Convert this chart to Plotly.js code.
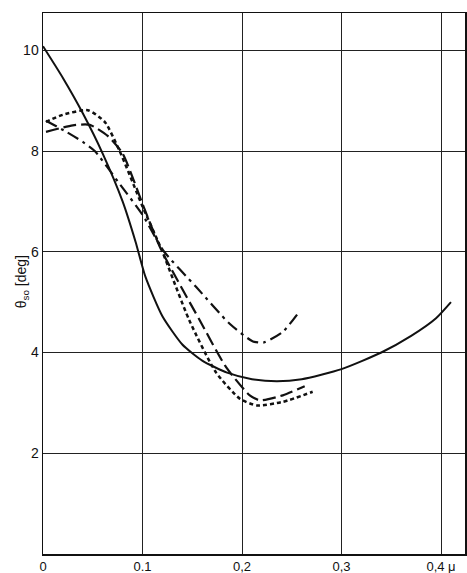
<!DOCTYPE html>
<html>
<head>
<meta charset="utf-8">
<script src="https://cdn.plot.ly/plotly-3.0.1.min.js"></script>
<style>html,body{margin:0;padding:0;background:#fff;}#chart{width:467px;height:573px;}</style>
</head>
<body>
<div id="chart"></div>
<script>
// Solid curve
var solidX = [0, 0.02, 0.04, 0.06, 0.08, 0.093, 0.103, 0.12, 0.14, 0.16, 0.185, 0.21, 0.235, 0.26, 0.30, 0.34, 0.37, 0.395, 0.41];
var solidY = [10.08, 9.45, 8.75, 7.95, 7.0, 6.2, 5.5, 4.72, 4.16, 3.84, 3.6, 3.47, 3.43, 3.47, 3.67, 4.0, 4.33, 4.68, 5.0];
// Dotted curve
var dotX = [0.003, 0.02, 0.045, 0.062, 0.077, 0.1, 0.119, 0.147, 0.174, 0.198, 0.215, 0.241, 0.271];
var dotY = [8.58, 8.72, 8.81, 8.58, 8.0, 6.9, 6.05, 4.64, 3.6, 3.08, 2.95, 3.02, 3.22];
// Long-dash curve
var dashX = [0.003, 0.03, 0.047, 0.065, 0.08, 0.102, 0.119, 0.1575, 0.184, 0.2078, 0.218, 0.241, 0.263];
var dashY = [8.38, 8.51, 8.52, 8.3, 7.95, 6.85, 6.03, 4.64, 3.71, 3.15, 3.05, 3.15, 3.33];
// Dash-dot curve
var ddX = [0.003, 0.0235, 0.04, 0.052, 0.075, 0.1005, 0.1206, 0.154, 0.1876, 0.211, 0.222, 0.241, 0.256];
var ddY = [8.6, 8.38, 8.18, 8.0, 7.4, 6.72, 6.03, 5.3, 4.57, 4.22, 4.2, 4.41, 4.77];

var xTickVals = [0, 0.1, 0.2, 0.3, 0.4];
var xTickText = ["0", "0.1", "0,2", "0,3", "0,4 μ"];
var yTickVals = [2, 4, 6, 8, 10];
var yTickText = ["2", "4", "6", "8", "10"];
var yTitle = 'θ<sub>so</sub> [deg]';

var traces = [
  {x: solidX, y: solidY, mode: 'lines', line: {color: '#111', width: 2, shape: 'spline', smoothing: 0.6}},
  {x: dotX, y: dotY, mode: 'lines', line: {color: '#111', width: 2.5, dash: '4px,3px', shape: 'spline', smoothing: 0.6}},
  {x: dashX, y: dashY, mode: 'lines', line: {color: '#111', width: 2.2, dash: '13px,5px', shape: 'spline', smoothing: 0.6}},
  {x: ddX, y: ddY, mode: 'lines', line: {color: '#111', width: 2.2, dash: '12px,5px,3px,5px', shape: 'spline', smoothing: 0.6}}
];

var layout = {
  width: 467, height: 573,
  margin: {l: 43, r: 2, t: 13, b: 19},
  paper_bgcolor: '#fff', plot_bgcolor: '#fff',
  showlegend: false,
  font: {family: 'Liberation Sans, Arial, sans-serif', size: 14, color: '#111'},
  xaxis: {
    range: [0, 0.4241], tickmode: 'array', tickvals: xTickVals, ticktext: xTickText,
    showgrid: true, gridcolor: '#222', gridwidth: 1, zeroline: false,
    showline: true, linecolor: '#111', linewidth: 1.5, mirror: true,
    ticks: '', ticklen: 0, tickfont: {size: 13}
  },
  yaxis: {
    range: [0, 10.74], tickmode: 'array', tickvals: yTickVals, ticktext: yTickText,
    showgrid: true, gridcolor: '#222', gridwidth: 1, zeroline: false,
    showline: true, linecolor: '#111', linewidth: 1.5, mirror: true,
    ticks: '', ticklen: 0, tickfont: {size: 14}
  },
  annotations: [{
    text: yTitle, xref: 'paper', yref: 'paper', x: -0.05, y: 0.504,
    xanchor: 'center', yanchor: 'middle', textangle: -90, showarrow: false,
    font: {size: 14, color: '#111'}
  }]
};

Plotly.newPlot('chart', traces, layout, {displayModeBar: false, staticPlot: true});
</script>
</body>
</html>
